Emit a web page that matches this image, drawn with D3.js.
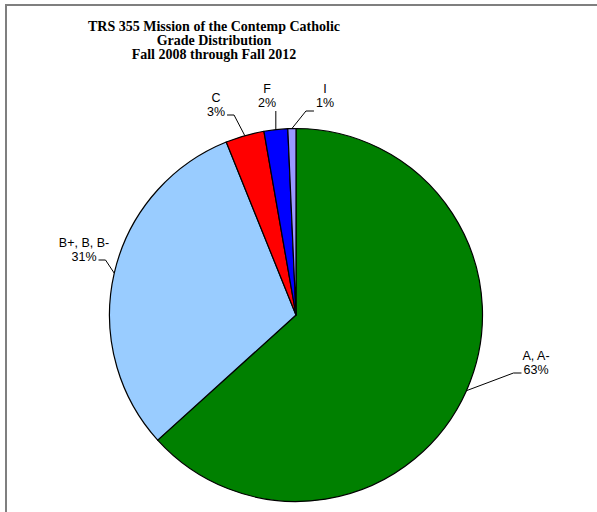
<!DOCTYPE html>
<html>
<head>
<meta charset="utf-8">
<script src="https://cdn.jsdelivr.net/npm/d3@7"></script>
<style>
    body { margin: 0; background: #fff; }
    .slice-label { font-family: "Liberation Sans", Arial, sans-serif; font-size: 12.5px; fill: #000; }
    .chart-title { font-family: "Liberation Serif", "Times New Roman", serif; font-size: 14px; font-weight: bold; fill: #000; }
</style>
</head>
<body>
<div id="chart"></div>
<script>
// Grade shares (percent), in the order the slices run clockwise from 12 o'clock
const grades = ["A, A-", "B+, B, B-", "C", "F", "I"];
const shares = [63.3, 30.6, 3.35, 2.05, 0.7];
const titleLines = ["TRS 355 Mission of the Contemp Catholic", "Grade Distribution", "Fall 2008 through Fall 2012"];

const sliceColors = ["#008000", "#99ccff", "#ff0000", "#0000ff", "#9999ff"];

// Where Excel put each label: block centre x and second baseline y, relative to the pie centre
const labelLayout = [
    { dx: 240, dy: 59, side: "right" },
    { dx: -212, dy: -54, side: "left" },
    { dx: -80, dy: -199, side: "left" },
    { dx: -29, dy: -208, side: "top" },
    { dx: 29, dy: -208, side: "right" }
];

const width = 597;
const height = 512;
const centerX = 296;
const centerY = 315;
const radius = 186.5;

const svg = d3.select("#chart").append("svg")
    .attr("width", width)
    .attr("height", height);

// frame (only the top and left edges fall inside the picture)
svg.append("rect")
    .attr("x", 6)
    .attr("y", 5)
    .attr("width", width + 20)
    .attr("height", height + 20)
    .attr("fill", "none")
    .attr("stroke", "#7f7f7f")
    .attr("stroke-width", 2);

const title = svg.append("text")
    .attr("class", "chart-title")
    .attr("text-anchor", "middle");
titleLines.forEach((line, i) => {
    title.append("tspan")
        .attr("x", 214)
        .attr("y", 31 + i * 14)
        .text(line);
});

const data = grades.map((g, i) => ({ grade: g, share: shares[i], color: sliceColors[i] }));

const pie = d3.pie()
    .sort(null)
    .value(d => d.share);

const arc = d3.arc()
    .innerRadius(0)
    .outerRadius(radius);

const g = svg.append("g")
    .attr("transform", `translate(${centerX}, ${centerY})`);

const arcs = pie(data);

g.selectAll("path.slice")
    .data(arcs)
    .enter()
    .append("path")
    .attr("class", "slice")
    .attr("d", arc)
    .attr("fill", d => d.data.color)
    .attr("stroke", "#000")
    .attr("stroke-width", 1.2)
    .attr("stroke-linejoin", "round");

// labels and leader lines
arcs.forEach((d, i) => {
    const layout = labelLayout[i];
    const mid = (d.startAngle + d.endAngle) / 2;
    const ax = radius * Math.sin(mid);
    const ay = -radius * Math.cos(mid);
    const pct = Math.round(d.data.share) + "%";

    const label = g.append("text")
        .attr("class", "slice-label")
        .attr("text-anchor", "middle");
    label.append("tspan").attr("x", layout.dx).attr("y", layout.dy - 14).text(d.data.grade);
    const pctSpan = label.append("tspan").attr("x", layout.dx).attr("y", layout.dy).text(pct);

    const halfWidth = pctSpan.node().getComputedTextLength() / 2;
    let points;
    if (layout.side === "top") {
        points = [[ax, ay], [ax, layout.dy + 4]];
    } else if (layout.side === "right") {
        const endX = layout.dx - halfWidth - 2;
        const lineY = layout.dy - 1 + (i === 4 ? 5 : 0);
        points = [[ax, ay], [endX - 8, lineY], [endX, lineY]];
    } else {
        const endX = layout.dx + halfWidth + 2;
        const lineY = layout.dy - 1;
        points = [[ax, ay], [endX + 7, lineY], [endX, lineY]];
    }

    g.append("path")
        .attr("d", d3.line()(points))
        .attr("fill", "none")
        .attr("stroke", "#000")
        .attr("stroke-width", 1);
});
</script>
</body>
</html>
